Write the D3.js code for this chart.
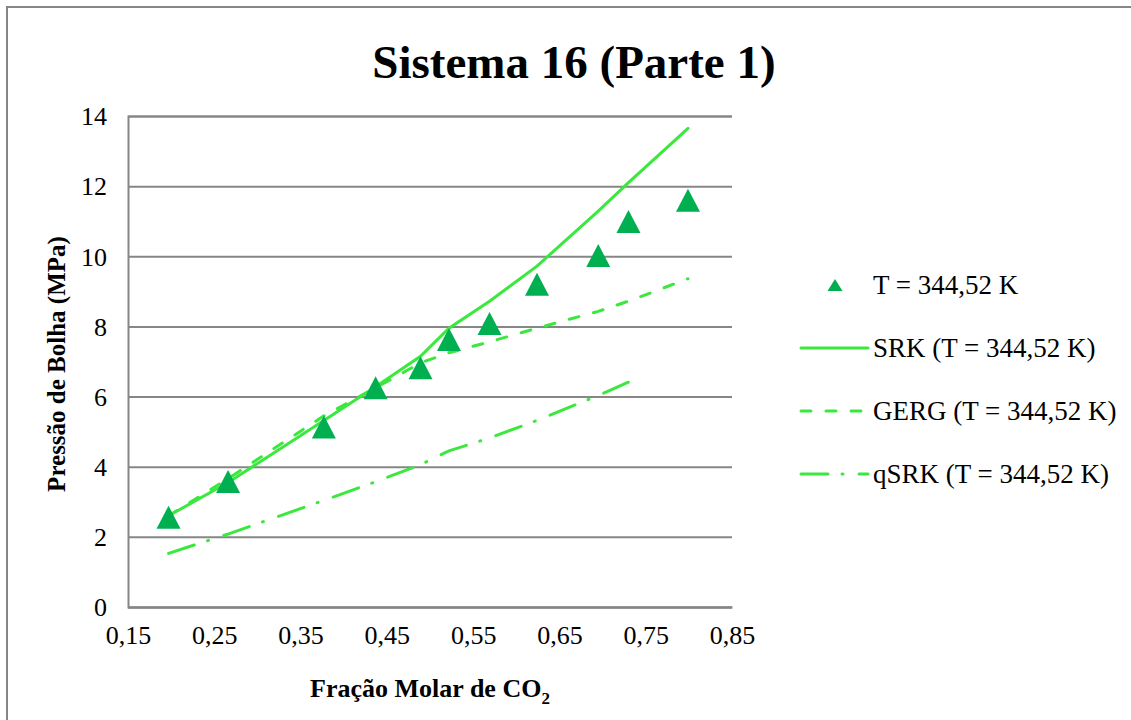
<!DOCTYPE html>
<html>
<head>
<meta charset="utf-8">
<script src="https://cdn.jsdelivr.net/npm/d3@7"></script>
<style>
    body { margin: 0; background: #fff; }
    svg text { font-family: 'Liberation Serif', 'Times New Roman', serif; fill: #000; }
</style>
</head>
<body>
<svg id="chart-svg" width="1131" height="720"></svg>
<script>
// dados
const fracaoExp = [0.197, 0.266, 0.377, 0.437, 0.489, 0.522, 0.569, 0.624, 0.695, 0.730, 0.799];
const pressaoExp = [2.56, 3.58, 5.13, 6.25, 6.82, 7.63, 8.08, 9.20, 10.02, 10.99, 11.60];

const fracaoModelo = [0.197, 0.266, 0.377, 0.437, 0.489, 0.522, 0.569, 0.624, 0.695, 0.730, 0.799];
const pressaoSRK = [2.60, 3.55, 5.32, 6.28, 7.15, 7.95, 8.72, 9.72, 11.29, 12.10, 13.65];
const pressaoGERG = [2.60, 3.66, 5.45, 6.25, 6.96, 7.25, 7.56, 7.95, 8.43, 8.72, 9.36];

const fracaoQSRK = [0.197, 0.266, 0.377, 0.437, 0.489, 0.522, 0.569, 0.624, 0.695, 0.730];
const pressaoQSRK = [1.53, 2.08, 3.04, 3.57, 4.06, 4.45, 4.82, 5.32, 6.03, 6.41];

const xTicks = [0.15, 0.25, 0.35, 0.45, 0.55, 0.65, 0.75, 0.85];
const yTicks = [0, 2, 4, 6, 8, 10, 12, 14];

const legendLabels = ['T = 344,52 K', 'SRK (T = 344,52 K)', 'GERG (T = 344,52 K)', 'qSRK (T = 344,52 K)'];

const svg = d3.select('#chart-svg');

const fontSerif = "Liberation Serif";
const lineColor = '#3ae83e';
const markerColor = '#00b050';
const gridColor = '#868686';

const margin = { top: 116, left: 128 };
const innerWidth = 604;
const innerHeight = 491;

// borda externa (so aparecem os lados esquerdo e superior)
svg.append('path')
    .attr('d', 'M7,720V7H1131')
    .attr('fill', 'none')
    .attr('stroke', gridColor)
    .attr('stroke-width', 2);

svg.append('text')
    .attr('x', 574)
    .attr('y', 78)
    .attr('text-anchor', 'middle')
    .style('font-size', '47px')
    .style('font-weight', 'bold')
    .text('Sistema 16 (Parte 1)');

const xScale = d3.scaleLinear()
    .domain([0.15, 0.85])
    .range([0, innerWidth]);

const yScale = d3.scaleLinear()
    .domain([0, 14])
    .range([innerHeight, 0]);

const g = svg.append('g')
    .attr('transform', `translate(${margin.left}, ${margin.top})`);

const fmt = d => d3.format('.2f')(d).replace('.', ',');

const yAxis = d3.axisLeft(yScale)
    .tickValues(yTicks)
    .tickSize(-innerWidth)
    .tickPadding(21);

const yAxisG = g.append('g').call(yAxis)
    .attr('font-family', fontSerif)
    .attr('font-size', 26);
yAxisG.select('.domain').attr('stroke', gridColor).attr('stroke-width', 2);
yAxisG.selectAll('.tick line').attr('stroke', gridColor).attr('stroke-width', 2);
yAxisG.selectAll('.tick text')
    .attr('dy', '0.34em');

const xAxis = d3.axisBottom(xScale)
    .tickValues(xTicks)
    .tickFormat(fmt)
    .tickSize(0)
    .tickPadding(19);

const xAxisG = g.append('g')
    .attr('transform', `translate(0, ${innerHeight})`)
    .call(xAxis)
    .attr('font-family', fontSerif)
    .attr('font-size', 26);
xAxisG.select('.domain').attr('stroke', gridColor).attr('stroke-width', 2);

// titulos dos eixos
const xTitle = svg.append('text')
    .attr('x', margin.left + innerWidth / 2)
    .attr('y', 697)
    .attr('text-anchor', 'middle')
    .style('font-size', '26px')
    .style('font-weight', 'bold');
xTitle.append('tspan').text('Fração Molar de CO');
xTitle.append('tspan').attr('dy', 7).style('font-size', '17px').text('2');

svg.append('text')
    .attr('transform', 'translate(65, 364) rotate(-90)')
    .attr('text-anchor', 'middle')
    .style('font-size', '25px')
    .style('font-weight', 'bold')
    .text('Pressão de Bolha (MPa)');

// series
const line = d3.line()
    .x(d => xScale(d[0]))
    .y(d => yScale(d[1]));

const srk = d3.zip(fracaoModelo, pressaoSRK);
const gerg = d3.zip(fracaoModelo, pressaoGERG);
const qsrk = d3.zip(fracaoQSRK, pressaoQSRK);

const dashGERG = '10,15';
const dashQSRK = '27,14,1,16';

g.append('path')
    .datum(qsrk)
    .attr('d', line)
    .attr('fill', 'none')
    .attr('stroke', lineColor)
    .attr('stroke-width', 3)
    .attr('stroke-linecap', 'round')
    .attr('stroke-dasharray', dashQSRK);

g.append('path')
    .datum(gerg)
    .attr('d', line)
    .attr('fill', 'none')
    .attr('stroke', lineColor)
    .attr('stroke-width', 3)
    .attr('stroke-linecap', 'round')
    .attr('stroke-dasharray', dashGERG);

g.append('path')
    .datum(srk)
    .attr('d', line)
    .attr('fill', 'none')
    .attr('stroke', lineColor)
    .attr('stroke-width', 3)
    .attr('stroke-linecap', 'round');

const triangle = (w, h) => `M0,${-h / 2}L${w / 2},${h / 2}L${-w / 2},${h / 2}Z`;

g.selectAll('.ponto').data(d3.zip(fracaoExp, pressaoExp))
    .enter().append('path')
    .attr('class', 'ponto')
    .attr('d', triangle(24, 23))
    .attr('transform', d => `translate(${xScale(d[0])}, ${yScale(d[1])})`)
    .attr('fill', markerColor);

// legenda
const legend = svg.append('g');
const rowY = [285, 348, 411, 474];

legend.append('path')
    .attr('d', triangle(15, 12))
    .attr('transform', `translate(835, ${rowY[0]})`)
    .attr('fill', markerColor);

const legendDash = [null, null, dashGERG, dashQSRK];
[1, 2, 3].forEach(i => {
    legend.append('line')
        .attr('x1', 801)
        .attr('x2', 868)
        .attr('y1', rowY[i])
        .attr('y2', rowY[i])
        .attr('stroke', lineColor)
        .attr('stroke-width', 3)
        .attr('stroke-linecap', 'round')
        .attr('stroke-dasharray', legendDash[i]);
});

legend.selectAll('.leg-text').data(legendLabels)
    .enter().append('text')
    .attr('class', 'leg-text')
    .attr('x', 873)
    .attr('y', (d, i) => rowY[i] + 9)
    .style('font-size', '27px')
    .text(d => d);
</script>
</body>
</html>
